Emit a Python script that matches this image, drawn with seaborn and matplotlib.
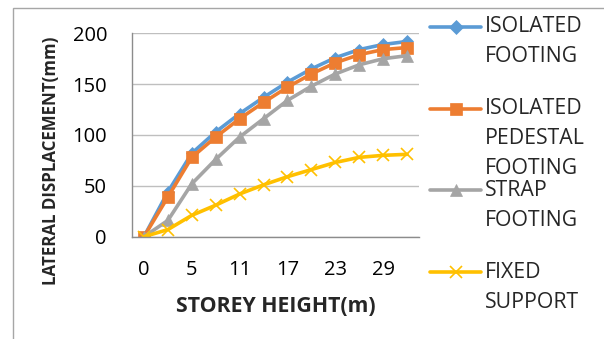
import numpy as np
import pandas as pd
import matplotlib
matplotlib.use("Agg")
import matplotlib.pyplot as plt
from matplotlib.lines import Line2D
from matplotlib.patches import Rectangle
import seaborn as sns

storey_height = [0, 2, 5, 8, 11, 14, 17, 20, 23, 26, 29, 32]
isolated_footing = [0, 44, 82, 103, 121, 137, 152, 165, 176, 184, 189, 192]
isolated_pedestal = [0, 39, 78, 98, 116, 132, 147, 160, 171, 179, 184, 186]
strap_footing = [0, 16, 52, 76, 98, 116, 134, 148, 160, 169, 175, 178]
fixed_support = [0, 7, 21, 31, 42, 51, 59, 66, 73, 78, 80, 81]

series_names = ["ISOLATED\nFOOTING", "ISOLATED\nPEDESTAL\nFOOTING",
                "STRAP\nFOOTING", "FIXED\nSUPPORT"]
series_values = [isolated_footing, isolated_pedestal, strap_footing, fixed_support]
colors = ["#5B9BD5", "#ED7D31", "#A5A5A5", "#FFC000"]
markers = ["D", "s", "^", "x"]
msizes = [6, 8, 8, 8]

sns.set_theme(style="white")
plt.rcParams['font.family'] = ['Open Sans', 'DejaVu Sans']

fig = plt.figure(figsize=(6.04, 3.39), dpi=100)
ax = fig.add_axes([132/604, 1-236.7/339, (419-132)/604, (236.7-33.3)/339])

rows = []
for name, vals in zip(series_names, series_values):
    for i, (h, v) in enumerate(zip(storey_height, vals)):
        rows.append({"idx": i, "h": h, "val": v, "series": name})
df = pd.DataFrame(rows)

for name, c, m, ms in zip(series_names, colors, markers, msizes):
    sub = df[df.series == name]
    sns.lineplot(data=sub, x="idx", y="val", ax=ax, color=c, lw=2.6,
                 marker=m, markersize=ms, markeredgecolor=c,
                 markeredgewidth=1.2 if m == "x" else 0.5, legend=False)

n = len(storey_height)
ax.set_xlim(-0.5, n - 0.5)
ax.set_ylim(0, 200)
ax.set_yticks([0, 50, 100, 150, 200], labels=["0", "50", "100", "150", "200"])
major_idx = list(range(0, n, 2))
ax.set_xticks(major_idx, labels=[str(storey_height[i]) for i in major_idx])
ax.set_xticks(np.arange(-0.5, n, 1), minor=True)
ax.tick_params(axis='x', which='major', length=0, pad=17, labelsize=14.5)
ax.tick_params(axis='x', which='minor', length=6, width=1, color='#BFBFBF', direction='out')
ax.tick_params(axis='y', which='major', length=6, width=1, color='#BFBFBF', direction='out', pad=12, labelsize=14.5)
for t in ax.get_xticklabels() + ax.get_yticklabels():
    t.set_color('black')
ax.yaxis.grid(True, color='#BFBFBF', lw=1)
ax.set_axisbelow(True)
for s in ['top', 'right']:
    ax.spines[s].set_visible(False)
for s in ['left', 'bottom']:
    ax.spines[s].set_color('#8C8C8C')
    ax.spines[s].set_linewidth(1)

ax.set_xlabel("")
ax.set_ylabel("")
fig.text(276/604, 1-307/339, "STOREY HEIGHT(m)", fontsize=15.3, fontweight='bold',
         ha='center', va='center')
fig.text(51/604, 1-161/339, "LATERAL DISPLACEMENT(mm)", rotation=90, fontsize=12.2,
         fontweight='bold', ha='center', va='center')

# outer chart frame
fig.add_artist(Rectangle((12.5/604, -0.1), 1.2, 1 - 7.5/339 + 0.1, transform=fig.transFigure,
                         fill=False, edgecolor='#A6A6A6', lw=1))

# legend
entry_y = [27, 109, 190, 272]
for name, c, m, ms, y in zip(series_names, colors, markers, msizes, entry_y):
    yf = 1 - y/339
    fig.add_artist(Line2D([430/604, 481/604], [yf, yf], transform=fig.transFigure,
                          color=c, lw=2.6))
    fig.add_artist(Line2D([455.5/604], [yf], transform=fig.transFigure, color=c,
                          marker=m, markersize=ms + 1, markeredgecolor=c,
                          markeredgewidth=1.2 if m == "x" else 0.5, lw=0))
    for k, line in enumerate(name.split("\n")):
        fig.text(485/604, 1 - (y + 30*k)/339, line, fontsize=15.3, ha='left', va='center')

fig.savefig("out.png", dpi=100)
